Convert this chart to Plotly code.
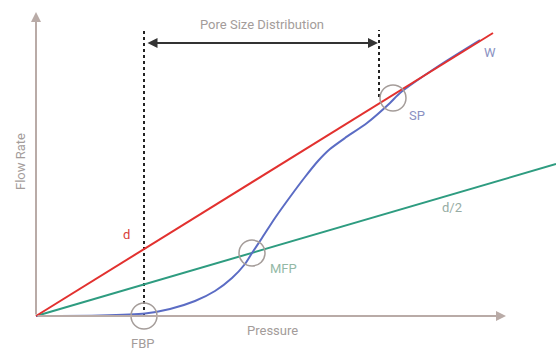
import plotly.graph_objects as go

# Schematic data (pressure, flow rate) in arbitrary units
d_pressure = [0, 457]
d_flow = [0, 283]
half_pressure = [0, 520]
half_flow = [0, 152]
w_pressure = [0, 64, 109, 134, 159, 179, 196, 209, 216, 226, 239, 254, 269, 282, 294, 309, 331, 354, 364, 404, 444]
w_flow = [0, 0.5, 2.5, 7, 15, 25, 38, 52, 63, 78, 98, 119, 139, 155, 167, 178, 193, 213, 223, 251, 276]

point_names = ["FBP", "MFP", "SP"]
point_pressure = [108, 216, 357]
point_flow = [0, 63, 218]

fbp_guide_pressure = [108, 108]
fbp_guide_flow = [0, 288]
sp_guide_pressure = [343, 343]
sp_guide_flow = [219, 286]
psd_flow = 273
psd_range = [110, 342]

x_axis_end = 470
y_axis_end = 304

AXIS = "#b9aba7"
TXT = "#a39c9a"
RED = "#e2312f"
GREEN = "#2e9c80"
BLUE = "#5b6cc4"
FONT = "Roboto"

fig = go.Figure()

fig.add_trace(go.Scatter(x=fbp_guide_pressure, y=fbp_guide_flow, mode="lines",
                         line=dict(color="#222222", width=2, dash="dot"), hoverinfo="skip"))
fig.add_trace(go.Scatter(x=sp_guide_pressure, y=sp_guide_flow, mode="lines",
                         line=dict(color="#222222", width=2, dash="dot"), hoverinfo="skip"))
fig.add_trace(go.Scatter(x=half_pressure, y=half_flow, mode="lines",
                         line=dict(color=GREEN, width=2)))
fig.add_trace(go.Scatter(x=w_pressure, y=w_flow, mode="lines",
                         line=dict(color=BLUE, width=2, shape="spline", smoothing=0.6)))
fig.add_trace(go.Scatter(x=d_pressure, y=d_flow, mode="lines",
                         line=dict(color=RED, width=2)))
fig.add_trace(go.Scatter(x=point_pressure, y=point_flow, mode="markers",
                         marker=dict(symbol="circle-open", size=26, color="#a59d9a",
                                     line=dict(width=1.5, color="#a59d9a"))))

# axes arrows
fig.add_annotation(x=x_axis_end, y=0, ax=0, ay=0, xref="x", yref="y", axref="x", ayref="y",
                   text="", showarrow=True, arrowhead=2, arrowsize=1, arrowwidth=2, arrowcolor=AXIS)
fig.add_annotation(x=0, y=y_axis_end, ax=0, ay=0, xref="x", yref="y", axref="x", ayref="y",
                   text="", showarrow=True, arrowhead=2, arrowsize=1, arrowwidth=2, arrowcolor=AXIS)
# pore size distribution double arrow
fig.add_annotation(x=psd_range[1], y=psd_flow, ax=psd_range[0], ay=psd_flow, xref="x", yref="y",
                   axref="x", ayref="y", text="", showarrow=True, arrowhead=2, startarrowhead=2,
                   arrowside="end+start", arrowsize=1, arrowwidth=2, arrowcolor="#333333")

labels = [
    ("Pore Size Distribution", 226, 292, TXT, 0),
    ("Pressure", 236, -14, TXT, 0),
    ("FBP", 107, -27, TXT, 0),
    ("Flow Rate", -16, 154, TXT, -90),
    ("d", 90, 82, "#d8403a", 0),
    ("MFP", 247, 48, "#93b9a6", 0),
    ("SP", 381, 201, "#8a91c2", 0),
    ("W", 454, 264, "#8a91c2", 0),
    ("d/2", 416, 109, "#97aca4", 0),
]
for t, x, y, c, a in labels:
    fig.add_annotation(x=x, y=y, xref="x", yref="y", text=t, showarrow=False,
                       textangle=a, font=dict(family=FONT, size=13, color=c))

fig.update_layout(
    width=556, height=352, margin=dict(l=0, r=0, t=0, b=0),
    paper_bgcolor="white", plot_bgcolor="white", showlegend=False,
    xaxis=dict(range=[-36, 520], visible=False, fixedrange=True),
    yaxis=dict(range=[-36, 316], visible=False, fixedrange=True),
)
fig.write_html("out.html", config={"displayModeBar": False},
               post_script="document.body.style.margin='0';document.body.style.overflow='hidden';")
